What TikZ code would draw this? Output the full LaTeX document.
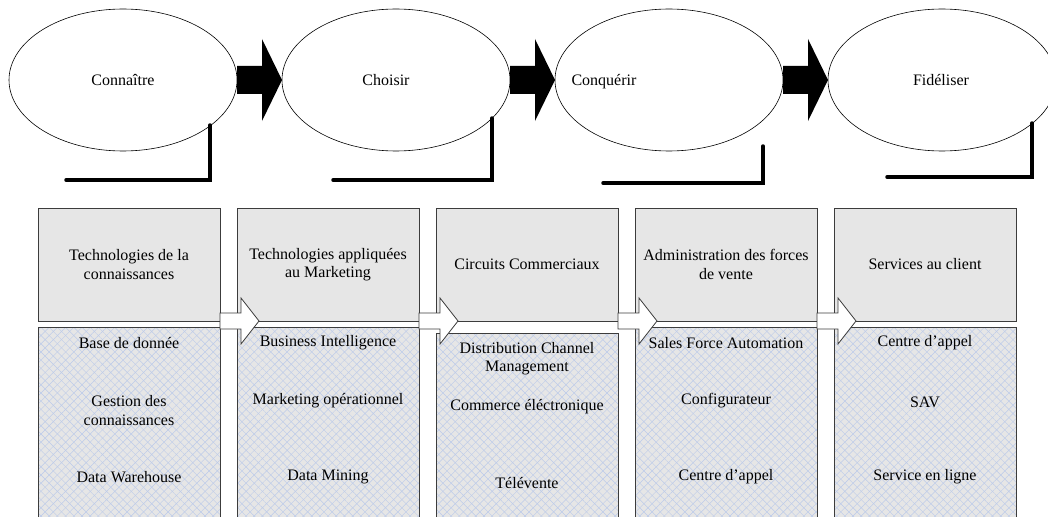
\documentclass[tikz,border=0pt]{standalone}
\usepackage{fontspec}
\setmainfont{Liberation Serif}
\usetikzlibrary{shapes.geometric,patterns.meta}
\definecolor{boxgray}{HTML}{E6E6E6}
\definecolor{hatchblue}{HTML}{BCCBEA}
\definecolor{edge}{HTML}{3C3C3C}
\tikzset{
 ell/.style={ellipse, draw=black, fill=white, line width=0.6pt, minimum width=228pt, minimum height=142pt, inner sep=0pt, outer sep=0pt},
 blk/.style={fill=black},
 lline/.style={line width=3.5pt, line cap=round, line join=miter},
 ubox/.style={draw=edge, fill=boxgray, line width=0.8pt, minimum width=182pt, minimum height=113pt, inner sep=0pt, outer sep=0pt, align=center},
 lbox/.style={draw=edge, fill=boxgray, line width=0.8pt, minimum width=182pt, inner sep=0pt, outer sep=0pt,
   postaction={pattern={Lines[angle=45,distance=5.8pt,line width=0.45pt]}, pattern color=hatchblue},
   postaction={pattern={Lines[angle=-45,distance=5.8pt,line width=0.45pt]}, pattern color=hatchblue}},
 lbox2/.style={draw=edge, line width=0.8pt, minimum width=182pt, inner sep=0pt, outer sep=0pt},
 warrow/.style={draw=edge, fill=white, line width=0.8pt, line join=miter},
 txt/.style={align=center, inner sep=0pt},
}
\begin{document}
\begin{tikzpicture}[x=1pt,y=-1pt,font=\fontsize{16}{18.5}\selectfont]
\useasboundingbox (0,0) rectangle (1048,516);
% ellipses
\node[ell] (e1) at (123,80) {};
\node[ell] (e2) at (396,80) {};
\node[ell] (e3) at (669,80) {};
\node[ell] (e4) at (942,80) {};
\node[txt] (t1) at (123,80) {Connaître};
\node[txt] (t2) at (386,80) {Choisir};
\node[txt] (t3) at (604,82) {Conquérir};
\node[txt] (t4) at (941,80) {Fidéliser};
% black block arrows
\fill[blk] (e1.east) ++(0,-14) -- ++(25,0) -- ++(0,-27) -- (e2.west) -- ++(-20,41) -- ++(0,-27) -- ++(-25,0) -- cycle;
\fill[blk] (e2.east) ++(0,-14) -- ++(25,0) -- ++(0,-27) -- (e3.west) -- ++(-20,41) -- ++(0,-27) -- ++(-25,0) -- cycle;
\fill[blk] (e3.east) ++(0,-14) -- ++(25,0) -- ++(0,-27) -- (e4.west) -- ++(-20,41) -- ++(0,-27) -- ++(-25,0) -- cycle;
% L lines
\coordinate (l1a) at (210,125); \coordinate (l1b) at (66,180);
\coordinate (l2a) at (492,118); \coordinate (l2b) at (333,180);
\coordinate (l3a) at (763,146); \coordinate (l3b) at (603,183);
\coordinate (l4a) at (1032,123); \coordinate (l4b) at (887,177);
\draw[lline] (l1a) |- (l1b);
\draw[lline] (l2a) |- (l2b);
\draw[lline] (l3a) |- (l3b);
\draw[lline] (l4a) |- (l4b);
% upper boxes
\node[ubox] (u1) at (129,264.5) {Technologies de la\\connaissances};
\node[ubox] (u2) at (328,264.5) {Technologies appliquées\\au Marketing};
\node[ubox] (u3) at (527,264.5) {Circuits Commerciaux};
\node[ubox] (u4) at (726,264.5) {Administration des forces\\de vente};
\node[ubox] (u5) at (925,264.5) {Services au client};
% lower boxes
\node[lbox, minimum height=203pt] (b1) at (129,428.5) {};
\node[lbox, minimum height=203pt] (b2) at (328,428.5) {};
\node[lbox, minimum height=197pt] (b3) at (527,431.5) {};
\node[lbox, minimum height=203pt] (b4) at (726,428.5) {};
\node[lbox, minimum height=203pt] (b5) at (925,428.5) {};
\node[lbox2, minimum height=203pt] at (b1) {};
\node[lbox2, minimum height=203pt] at (b2) {};
\node[lbox2, minimum height=197pt] at (b3) {};
\node[lbox2, minimum height=203pt] at (b4) {};
\node[lbox2, minimum height=203pt] at (b5) {};
% white arrows
\draw[warrow] (u1.south east) ++(0,-8) -- ++(21,0) -- ++(0,-15) -- ++(18,23) -- ++(-18,23) -- ++(0,-15) -- ++(-21,0) -- cycle;
\draw[warrow] (u2.south east) ++(0,-8) -- ++(21,0) -- ++(0,-15) -- ++(18,23) -- ++(-18,23) -- ++(0,-15) -- ++(-21,0) -- cycle;
\draw[warrow] (u3.south east) ++(0,-8) -- ++(21,0) -- ++(0,-15) -- ++(18,23) -- ++(-18,23) -- ++(0,-15) -- ++(-21,0) -- cycle;
\draw[warrow] (u4.south east) ++(0,-8) -- ++(21,0) -- ++(0,-15) -- ++(18,23) -- ++(-18,23) -- ++(0,-15) -- ++(-21,0) -- cycle;
% lower texts
\node[txt] (a1) at (129,343) {Base de donnée};
\node[txt] (a2) at (129,410.5) {Gestion des\\connaissances};
\node[txt] (a3) at (129,477) {Data Warehouse};
\node[txt] (c1) at (328,343) {Business Intelligence};
\node[txt] (c2) at (328,401) {Marketing opérationnel};
\node[txt] (c3) at (328,477) {Data Mining};
\node[txt] (d1) at (527,358.5) {Distribution Channel\\Management};
\node[txt] (d2) at (527,407) {Commerce éléctronique};
\node[txt] (d3) at (527,483) {Télévente};
\node[txt] (f1) at (726,343) {Sales Force Automation};
\node[txt] (f2) at (726,401) {Configurateur};
\node[txt] (f3) at (726,477) {Centre d’appel};
\node[txt] (g1) at (925,343) {Centre d’appel};
\node[txt] (g2) at (925,402) {SAV};
\node[txt] (g3) at (925,477) {Service en ligne};
\end{tikzpicture}
\end{document}
